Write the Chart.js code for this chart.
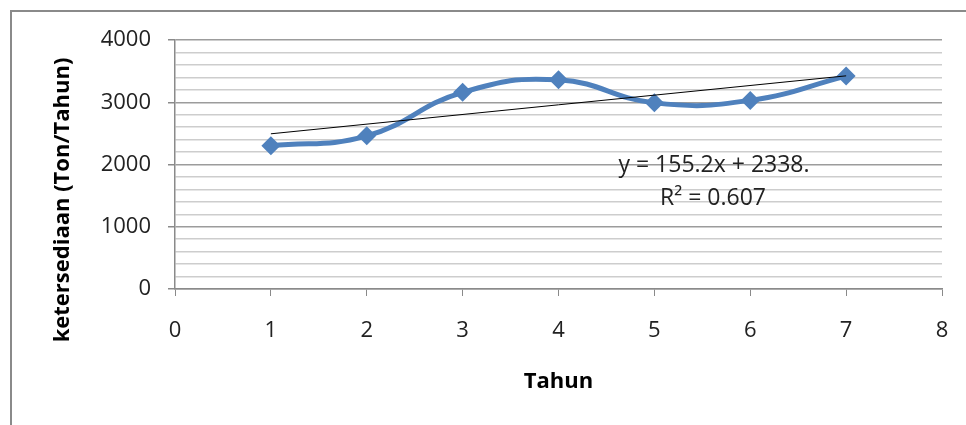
<!DOCTYPE html>
<html>
<head>
<meta charset="utf-8">
<script src="https://cdn.jsdelivr.net/npm/chart.js@4/dist/chart.umd.min.js"></script>
<style>
  html,body{margin:0;padding:0;background:#fff;}
  #wrap{position:relative;width:966px;height:425px;}
</style>
</head>
<body>
<div id="wrap"><canvas id="chart" width="966" height="425"></canvas></div>
<script>
// data
var tahun=[1,2,3,4,5,6,7],
    ketersediaan=[2300,2460,3160,3360,2990,3030,3420],
    xTicks=[0,1,2,3,4,5,6,7,8],
    yTicks=[0,1000,2000,3000,4000],
    trendSlope=155.2,
    trendIntercept=2338,
    trendLabel='y = 155.2x + 2338.',
    r2Label='R\u00b2 = 0.607';

var fontFam='"Open Sans", "Liberation Sans", sans-serif';

var points=tahun.map(function(t,i){return {x:t,y:ketersediaan[i]};}),
    trend=[tahun[0],tahun[tahun.length-1]].map(function(t){return {x:t,y:trendSlope*t+trendIntercept};});

var decor={
    id:'decor',
    beforeDraw:function(chart){
        var c=chart.ctx;
        c.save();
        c.strokeStyle='#8a8a8a';
        c.lineWidth=2;
        c.beginPath();
        c.moveTo(11,425);c.lineTo(11,11);c.lineTo(966,11);
        c.stroke();
        c.restore();
    },
    afterDraw:function(chart){
        var c=chart.ctx,a=chart.chartArea;
        c.save();
        c.fillStyle='#000';
        c.font='bold 22px '+fontFam;
        c.textAlign='center';c.textBaseline='middle';
        c.fillText('Tahun',(a.left+a.right)/2,382);
        c.translate(63,200);
        c.rotate(-Math.PI/2);
        c.fillText('ketersediaan (Ton/Tahun)',0,0);
        c.restore();
        c.save();
        c.fillStyle='#222';
        c.font='23px '+fontFam;
        c.textAlign='center';c.textBaseline='middle';
        c.fillText(trendLabel,714,165);
        c.fillText(r2Label,713,198);
        c.restore();
    }
};

new Chart(document.getElementById('chart'),{
    type:'line',
    data:{
        datasets:[{
            label:'ketersediaan',
            data:points,
            borderColor:'#4F81BD',
            backgroundColor:'#4F81BD',
            borderWidth:5,
            tension:0.45,
            pointStyle:'rectRot',
            pointRadius:9.5,
            pointHoverRadius:9.5,
            pointBorderWidth:0,
            order:1
        },{
            label:'trend',
            data:trend,
            borderColor:'#000',
            borderWidth:1,
            pointRadius:0,
            tension:0,
            order:0
        }]
    },
    options:{
        responsive:false,
        animation:false,
        devicePixelRatio:1,
        layout:{padding:{left:0,right:24,top:40,bottom:0}},
        plugins:{legend:{display:false},tooltip:{enabled:false}},
        scales:{
            x:{
                type:'linear',min:0,max:8,
                afterBuildTicks:function(s){s.ticks=xTicks.map(function(v){return {value:v};});},
                afterFit:function(s){s.height=136;s.paddingLeft=0;s.paddingRight=0;},
                border:{color:'#8a8a8a',width:1.5},
                grid:{drawOnChartArea:false,drawTicks:true,tickLength:7,color:'#8a8a8a'},
                ticks:{autoSkip:false,color:'#222',font:{family:fontFam,size:22},padding:22,maxRotation:0}
            },
            y:{
                min:0,max:4000,
                ticks:{
                    autoSkip:false,
                    stepSize:200,
                    color:'#222',font:{family:fontFam,size:22},padding:17,
                    callback:function(v){return yTicks.indexOf(v)>=0?String(v):'';}
                },
                afterFit:function(s){s.width=175;},
                border:{color:'#8a8a8a',width:1.5},
                grid:{
                    tickLength:7,
                    color:function(ctx){return ctx.tick&&ctx.tick.value%1000===0?'#9c9c9c':'#cdcdcd';},
                    tickColor:function(ctx){return ctx.tick&&ctx.tick.value%1000===0?'#8a8a8a':'rgba(0,0,0,0)';},
                    lineWidth:1.5
                }
            }
        }
    },
    plugins:[decor]
});
</script>
</body>
</html>
